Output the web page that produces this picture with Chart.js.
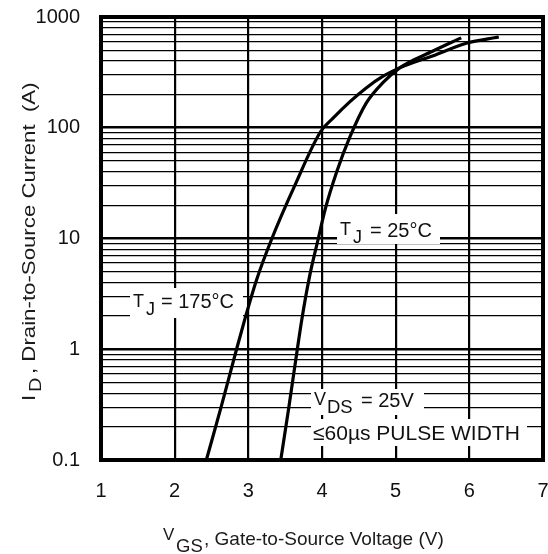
<!DOCTYPE html>
<html>
<head>
<meta charset="utf-8">
<script src="https://cdn.jsdelivr.net/npm/chart.js@4.4.1/dist/chart.umd.min.js"></script>
<style>
  html, body { margin: 0; padding: 0; background: #fff; }
</style>
</head>
<body>
<canvas id="transferChart" width="548" height="554"></canvas>
<script>
// Typical transfer characteristics, ID vs VGS (log scale)

const X_TICKS = [1, 2, 3, 4, 5, 6, 7];
const Y_DECADES = [0.1, 1, 10, 100, 1000];
const Y_MINOR_STEPS = [2, 3, 4, 5, 6, 7, 8, 9];

// TJ = 175°C
const VGS_175 = [2.43, 2.63, 2.84, 2.95, 3.11, 3.32, 3.63, 3.98, 4.15, 4.38, 4.6, 4.83, 5.06, 5.5, 5.96, 6.4];
const ID_175  = [0.1,  0.3,  1,    1.84, 4.2,  10,   30,   92,   122,  172,  229, 292,  349,  445, 580,  660];

// TJ = 25°C
const VGS_25 = [3.44, 3.55, 3.665, 3.725, 3.83, 3.95, 4.04, 4.2, 4.38, 4.6, 4.83, 5.06, 5.5, 5.89];
const ID_25  = [0.1,  0.3,  1,     1.84,  4.5,  10,   18,   40,  83,   167, 257,  349,  490, 648];

const FONT = '"Liberation Sans", Arial, Helvetica, sans-serif';
const INK = '#111';

function toPoints(xs, ys) {
    return xs.map((x, i) => ({ x: x, y: ys[i] }));
}

function buildLogTicks() {
    const ticks = [];
    Y_DECADES.forEach((d, i) => {
        ticks.push({ value: d });
        if (i < Y_DECADES.length - 1) {
            Y_MINOR_STEPS.forEach(m => ticks.push({ value: d * m }));
        }
    });
    return ticks;
}

function findDecade(v) {
    return Y_DECADES.find(d => Math.abs(v - d) < d * 1e-6);
}

function drawPiece(ctx, s, x, y, size) {
    ctx.font = size + 'px ' + FONT;
    ctx.fillText(s, x, y);
}

const frameAndLabels = {
    id: 'frameAndLabels',
    afterDraw(chart) {
        const ctx = chart.ctx;
        const a = chart.chartArea;
        ctx.save();

        // heavy plot frame
        ctx.strokeStyle = '#000';
        ctx.lineWidth = 4;
        ctx.strokeRect(a.left, a.top, a.right - a.left, a.bottom - a.top);

        ctx.textBaseline = 'alphabetic';
        ctx.textAlign = 'left';

        // white boxes behind the curve labels
        ctx.fillStyle = '#fff';
        ctx.fillRect(337, 214, 103, 30);   // TJ = 25°C
        ctx.fillRect(130, 288, 113, 30);   // TJ = 175°C
        ctx.fillRect(311, 389, 113, 26);   // VDS = 25V
        ctx.fillRect(311, 419, 216, 27);   // pulse width

        ctx.fillStyle = INK;
        drawPiece(ctx, 'T', 340, 235, 18);
        drawPiece(ctx, 'J', 353, 243, 18);
        drawPiece(ctx, '= 25°C', 370, 237, 20);

        drawPiece(ctx, 'T', 133, 307, 18);
        drawPiece(ctx, 'J', 146, 315, 18);
        drawPiece(ctx, '= 175°C', 161, 308, 20);

        drawPiece(ctx, 'V', 314, 405, 18);
        drawPiece(ctx, 'DS', 327, 413, 18.5);
        drawPiece(ctx, '= 25V', 361, 407, 20);

        drawPiece(ctx, '\u226460\u00b5s PULSE WIDTH', 313, 440, 21);

        // x axis title
        ctx.fillStyle = '#1a1a1a';
        drawPiece(ctx, 'V', 163, 540, 17);
        drawPiece(ctx, 'GS', 176, 552, 18.5);
        drawPiece(ctx, ', Gate-to-Source Voltage (V)', 204, 545, 19);

        // y axis title, stretched along its length like the original
        const yParts = [
            { s: 'I', y: 401, base: 35, size: 19 },
            { s: 'D', y: 392, base: 41, size: 17 },
            { s: ', Drain-to-Source Current  (A)', y: 374, base: 35, size: 19 }
        ];
        yParts.forEach(p => {
            ctx.save();
            ctx.translate(p.base, p.y);
            ctx.rotate(-Math.PI / 2);
            ctx.scale(1.17, 1);
            drawPiece(ctx, p.s, 0, 0, p.size);
            ctx.restore();
        });

        ctx.restore();
    }
};

const ctx = document.getElementById('transferChart').getContext('2d');

new Chart(ctx, {
    type: 'line',
    data: {
        datasets: [
            {
                label: 'TJ = 175°C',
                data: toPoints(VGS_175, ID_175),
                borderColor: '#000',
                borderWidth: 3.2,
                pointRadius: 0,
                cubicInterpolationMode: 'monotone',
                fill: false
            },
            {
                label: 'TJ = 25°C',
                data: toPoints(VGS_25, ID_25),
                borderColor: '#000',
                borderWidth: 3.2,
                pointRadius: 0,
                cubicInterpolationMode: 'monotone',
                fill: false
            }
        ]
    },
    options: {
        responsive: false,
        animation: false,
        devicePixelRatio: 1,
        layout: { padding: { top: 17, right: 5, left: 0, bottom: 0 } },
        plugins: {
            legend: { display: false },
            tooltip: { enabled: false }
        },
        scales: {
            x: {
                type: 'linear',
                min: 1,
                max: 7,
                afterBuildTicks: scale => { scale.ticks = X_TICKS.map(v => ({ value: v })); },
                afterFit: scale => {
                    scale.height = 94;
                    scale.paddingLeft = 0;
                    scale.paddingRight = 0;
                },
                border: { display: false },
                grid: { color: '#000', lineWidth: 2.2, drawTicks: false },
                ticks: {
                    autoSkip: false,
                    maxRotation: 0,
                    padding: 19,
                    color: INK,
                    font: { family: FONT, size: 20 }
                }
            },
            y: {
                type: 'logarithmic',
                min: 0.1,
                max: 1000,
                afterBuildTicks: scale => { scale.ticks = buildLogTicks(); },
                afterFit: scale => {
                    scale.width = 101;
                    scale.paddingTop = 0;
                    scale.paddingBottom = 0;
                },
                border: { display: false },
                grid: {
                    color: '#000',
                    drawTicks: false,
                    lineWidth: c => (c.tick && findDecade(c.tick.value) !== undefined) ? 2.6 : 1.3
                },
                ticks: {
                    autoSkip: false,
                    padding: 21,
                    color: INK,
                    font: { family: FONT, size: 20 },
                    callback: v => {
                        const d = findDecade(v);
                        return d !== undefined ? String(d) : '';
                    }
                }
            }
        }
    },
    plugins: [frameAndLabels]
});
</script>
</body>
</html>
